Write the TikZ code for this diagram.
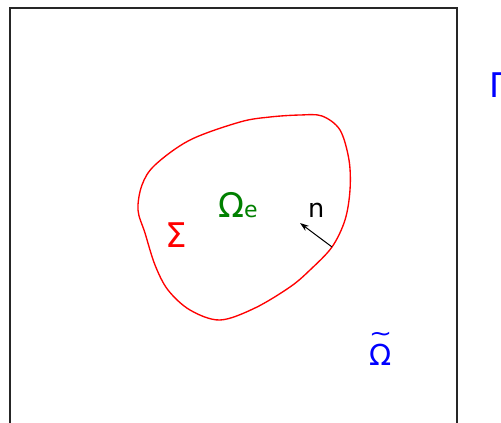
\documentclass[tikz,border=0pt]{standalone}
\usepackage{fontspec}
\usepackage{graphicx}
\setmainfont{DejaVu Sans}
\usetikzlibrary{arrows.meta}
\definecolor{sigred}{RGB}{255,0,0}
\definecolor{omgreen}{RGB}{0,128,0}
\definecolor{gamblue}{RGB}{0,0,255}
\tikzset{
  lbl/.style={inner sep=0pt, anchor=base west},
  frame/.style={draw=black!85, line width=1.3pt},
  surf/.style={draw=sigred, line width=1.35pt},
  normal/.style={-{Stealth[length=9pt,width=6pt]}, line width=1pt, black}
}
\begin{document}
\begin{tikzpicture}[x=1pt,y=-1pt]
\useasboundingbox (0,0) rectangle (501,423);
\clip (0,0) rectangle (501,423);
\fill[white] (0,0) rectangle (501,423);
\draw[frame] (10,8) rectangle (457,440);
\draw[surf] plot[smooth cycle, tension=0.55] coordinates {
 (300,115) (322,116) (340,130) (349,160) (350,190) (345,220) (332,247)
 (310,270) (290,287) (255,308) (220,320) (190,310) (168,290) (155,265)
 (145,233) (138,210) (142,185) (155,165) (190,140) (240,122) (270,117)};
\coordinate (nfoot) at (332,247);
\coordinate (ntip) at (300,223);
\draw[normal] (nfoot) -- (ntip);
\node[lbl, text=sigred, font=\fontsize{34}{40}\selectfont] (sigma) at (165,247) {Σ};
\node[lbl, text=omgreen] (omegae) at (218,217) {{\fontsize{34}{40}\selectfont Ω}{\fontsize{22}{26}\selectfont e}};
\node[lbl, font=\fontsize{25.6}{30}\selectfont] (nlab) at (308,217) {n};
\node[lbl, text=gamblue, font=\fontsize{29}{34}\selectfont] (omegat) at (369.5,365.5)
  {\rlap{\makebox[0.764em][c]{\raisebox{24pt}{\scalebox{0.95}[0.8]{\textasciitilde}}}}Ω};
\node[lbl, text=gamblue, font=\fontsize{34}{40}\selectfont] (gamma) at (489,97) {Γ};
\end{tikzpicture}
\end{document}
